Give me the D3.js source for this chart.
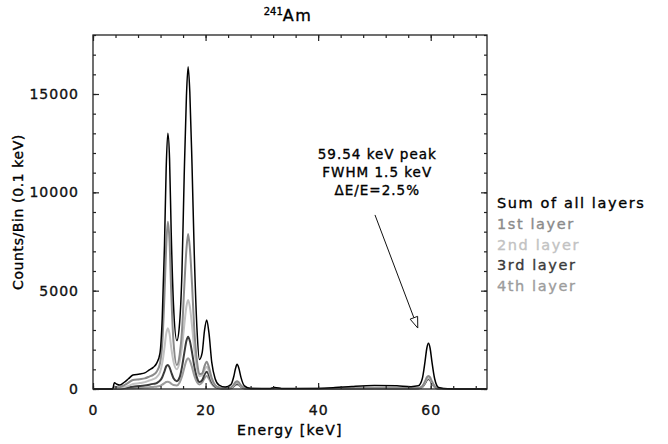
<!DOCTYPE html>
<html>
<head>
<meta charset="utf-8">
<script src="https://cdn.jsdelivr.net/npm/d3@7"></script>
<style>
  body { margin: 0; background: #fff; }
  svg text { font-family: 'DejaVu Sans', sans-serif; stroke-width: 0.35px; }
</style>
</head>
<body>
<div id="chart"></div>
<script>
// Energy grid (keV) and counts per 0.1 keV bin
const energies = [0, 3.5, 3.8, 4.2, 4.7, 5.5, 6.3, 7.1, 8.3, 9.2, 10.0, 10.7, 11.3, 11.9, 12.3,
  12.7, 13.0, 13.3, 13.6, 13.9, 14.3, 14.9, 15.4, 15.8, 16.2, 16.6, 16.9, 17.2, 17.6, 18.0,
  18.5, 18.9, 19.4, 19.8, 20.2, 20.6, 21.1, 21.7, 22.4, 23.5, 24.5, 25.0, 25.3, 25.6, 25.9,
  26.3, 26.9, 28.0, 30.0, 31.5, 32.3, 33.5, 36.0, 40.0, 43.0, 46.0, 50.0, 54.0, 56.5, 57.8,
  58.5, 59.0, 59.3, 59.6, 59.9, 60.2, 60.7, 61.4, 63.0, 70.0];

const sumCounts = [0, 0, 320, 250, 200, 330, 520, 710, 760, 820, 970, 1100, 1300, 1830, 3600,
  7300, 11200, 13000, 11700, 7900, 4300, 2460, 3400, 5900, 10800, 14900, 16390, 15100, 11300, 6800,
  2900, 1500, 1850, 2950, 3510, 2850, 1350, 520, 200, 100, 220, 620, 1020, 1255, 1070,
  580, 160, 30, 20, 30, 80, 30, 20, 30, 70, 130, 180, 160, 120, 160,
  520, 1420, 2060, 2325, 2060, 1420, 520, 80, 10, 0];

const layer1 = [0, 0, 120, 100, 90, 180, 320, 460, 500, 540, 630, 720, 880, 1300, 2300,
  4800, 7200, 8510, 7500, 4900, 2400, 1220, 1750, 2900, 5100, 7100, 7880, 7200, 5300, 3000,
  1350, 760, 800, 1150, 1390, 1100, 550, 200, 80, 40, 80, 220, 340, 400, 340,
  180, 50, 10, 5, 5, 15, 5, 5, 8, 15, 30, 40, 35, 30, 45,
  140, 400, 590, 660, 590, 400, 140, 20, 0, 0];

const layer2 = [0, 0, 60, 50, 50, 90, 160, 250, 300, 350, 430, 500, 600, 850, 1300,
  2100, 2800, 3090, 2800, 2100, 1400, 1000, 1400, 2100, 3200, 4200, 4530, 4200, 3200, 2000,
  1000, 650, 700, 950, 1130, 900, 450, 170, 60, 30, 60, 180, 280, 330, 280,
  150, 40, 10, 5, 5, 12, 5, 5, 8, 15, 28, 38, 32, 28, 40,
  120, 340, 500, 560, 500, 340, 120, 15, 0, 0];

const layer3 = [0, 0, 30, 25, 25, 50, 90, 120, 150, 180, 220, 260, 300, 420, 600,
  900, 1150, 1220, 1100, 850, 550, 400, 600, 1100, 1800, 2450, 2660, 2450, 1850, 1150,
  550, 350, 450, 720, 880, 700, 350, 130, 50, 25, 50, 150, 240, 280, 240,
  130, 35, 8, 4, 4, 10, 4, 4, 6, 12, 25, 35, 30, 25, 35,
  110, 310, 460, 520, 460, 310, 110, 15, 0, 0];

const layer4 = [0, 0, 10, 8, 8, 15, 25, 40, 55, 70, 90, 105, 120, 160, 220,
  300, 360, 370, 340, 270, 200, 180, 330, 620, 1050, 1450, 1560, 1450, 1100, 680,
  330, 230, 330, 540, 660, 520, 260, 100, 40, 20, 40, 130, 200, 230, 200,
  110, 30, 6, 3, 3, 8, 3, 3, 5, 10, 20, 30, 25, 20, 30,
  100, 290, 440, 490, 440, 290, 100, 12, 0, 0];

const seriesNames = ['Sum of all layers', '1st layer', '2nd layer', '3rd layer', '4th layer'];
const seriesColors = ['#000', '#8a8a8a', '#c2c2c2', '#3a3a3a', '#9c9c9c'];

const xMajor = [0, 20, 40, 60];
const xMinor = d3.range(0, 70, 4);
const yMajor = [0, 5000, 10000, 15000];
const yMinor = d3.range(0, 18001, 1000);

const annotationLines = ['59.54 keV peak', 'FWHM 1.5 keV', 'ΔE/E=2.5%'];

const W = 668, H = 444;
const margin = { top: 35, right: 181, bottom: 55, left: 93 };
const width = W - margin.left - margin.right;
const height = H - margin.top - margin.bottom;

const svg = d3.select('#chart').append('svg')
  .attr('width', W)
  .attr('height', H);

const g = svg.append('g')
  .attr('transform', `translate(${margin.left},${margin.top})`);

const x = d3.scaleLinear().domain([0, 70]).range([0, width]);
const y = d3.scaleLinear().domain([0, 18000]).range([height, 0]);

// Curves: layers first, sum on top
const allSeries = [sumCounts, layer1, layer2, layer3, layer4];
const line = d3.line()
  .x(d => x(d[0]))
  .y(d => y(d[1]))
  .curve(d3.curveMonotoneX);

[4, 3, 2, 1, 0].forEach(i => {
  const pts = energies.map((e, k) => [e, allSeries[i][k]]);
  g.append('path')
    .datum(pts)
    .attr('fill', 'none')
    .attr('stroke', seriesColors[i])
    .attr('stroke-width', i === 0 ? 1.5 : 2)
    .attr('stroke-linejoin', 'round')
    .attr('d', line);
});

// Frame + inward ticks on all four sides
function styleAxis(sel) {
  sel.select('.domain').remove();
  sel.selectAll('.tick line').attr('stroke', '#222').attr('stroke-width', 1.2);
  sel.selectAll('.tick text')
    .style('font-size', '14px')
    .style('letter-spacing', '1px')
    .attr('fill', '#111')
    .attr('stroke', '#111');
}

g.append('g').attr('transform', `translate(0,${height})`)
  .call(d3.axisBottom(x).tickValues(xMinor).tickSize(-3).tickFormat(''))
  .call(styleAxis);
g.append('g').attr('transform', `translate(0,${height})`)
  .call(d3.axisBottom(x).tickValues(xMajor).tickSize(-6).tickPadding(16).tickFormat(d3.format('d')))
  .call(styleAxis);
g.append('g')
  .call(d3.axisTop(x).tickValues(xMinor).tickSize(-3).tickFormat(''))
  .call(styleAxis);
g.append('g')
  .call(d3.axisTop(x).tickValues(xMajor).tickSize(-6).tickFormat(''))
  .call(styleAxis);

g.append('g')
  .call(d3.axisLeft(y).tickValues(yMinor).tickSize(-3).tickFormat(''))
  .call(styleAxis);
g.append('g')
  .call(d3.axisLeft(y).tickValues(yMajor).tickSize(-6).tickPadding(14).tickFormat(d3.format('d')))
  .call(styleAxis);
g.append('g').attr('transform', `translate(${width},0)`)
  .call(d3.axisRight(y).tickValues(yMinor).tickSize(-3).tickFormat(''))
  .call(styleAxis);
g.append('g').attr('transform', `translate(${width},0)`)
  .call(d3.axisRight(y).tickValues(yMajor).tickSize(-6).tickFormat(''))
  .call(styleAxis);

g.append('rect')
  .attr('width', width)
  .attr('height', height)
  .attr('fill', 'none')
  .attr('stroke', '#222')
  .attr('stroke-width', 1.3);

// Axis titles
g.append('text')
  .attr('x', width / 2)
  .attr('y', height + 46)
  .attr('text-anchor', 'middle')
  .attr('stroke', '#000')
  .style('font-size', '14px')
  .style('letter-spacing', '1.3px')
  .text('Energy [keV]');

g.append('text')
  .attr('transform', 'rotate(-90)')
  .attr('x', -height / 2)
  .attr('y', -70)
  .attr('text-anchor', 'middle')
  .attr('stroke', '#000')
  .style('font-size', '14px')
  .style('letter-spacing', '0.6px')
  .text('Counts/Bin (0.1 keV)');

// Title with superscript mass number
const title = svg.append('text')
  .attr('x', margin.left + width / 2 - 2)
  .attr('y', 21)
  .attr('text-anchor', 'middle')
  .attr('stroke', '#000')
  .style('font-size', '16px');
title.append('tspan')
  .style('font-size', '10px')
  .attr('dy', -6)
  .text('241');
title.append('tspan')
  .attr('dy', 6)
  .style('letter-spacing', '1.5px')
  .text('Am');

// Peak annotation and arrow
const ann = g.append('g');
annotationLines.forEach((t, i) => {
  ann.append('text')
    .attr('x', x(50.5))
    .attr('y', y(11700) + i * 18)
    .attr('text-anchor', 'middle')
    .attr('stroke', '#000')
    .style('font-size', '13.5px')
    .style('letter-spacing', '1px')
    .text(t);
});

const ax0 = x(50.1), ay0 = y(8850);
const ax1 = x(57.7), ay1 = y(3100);
const ang = Math.atan2(ay1 - ay0, ax1 - ax0);
const headLen = 11, headW = 4;
const bx = ax1 - headLen * Math.cos(ang), by = ay1 - headLen * Math.sin(ang);
ann.append('line')
  .attr('x1', ax0).attr('y1', ay0)
  .attr('x2', bx).attr('y2', by)
  .attr('stroke', '#111')
  .attr('stroke-width', 1);
ann.append('polygon')
  .attr('points', [
    [ax1, ay1],
    [bx + headW * Math.sin(ang), by - headW * Math.cos(ang)],
    [bx - headW * Math.sin(ang), by + headW * Math.cos(ang)]
  ].map(p => p.join(',')).join(' '))
  .attr('fill', '#fff')
  .attr('stroke', '#111')
  .attr('stroke-width', 1);

// Legend
const legend = svg.append('g')
  .attr('transform', `translate(${margin.left + width + 10}, 208)`);
seriesNames.forEach((name, i) => {
  legend.append('text')
    .attr('x', 0)
    .attr('y', i * 20.8)
    .attr('fill', seriesColors[i])
    .attr('stroke', seriesColors[i])
    .style('font-size', '14.5px')
    .style('letter-spacing', '1.6px')
    .text(name);
});
</script>
</body>
</html>
